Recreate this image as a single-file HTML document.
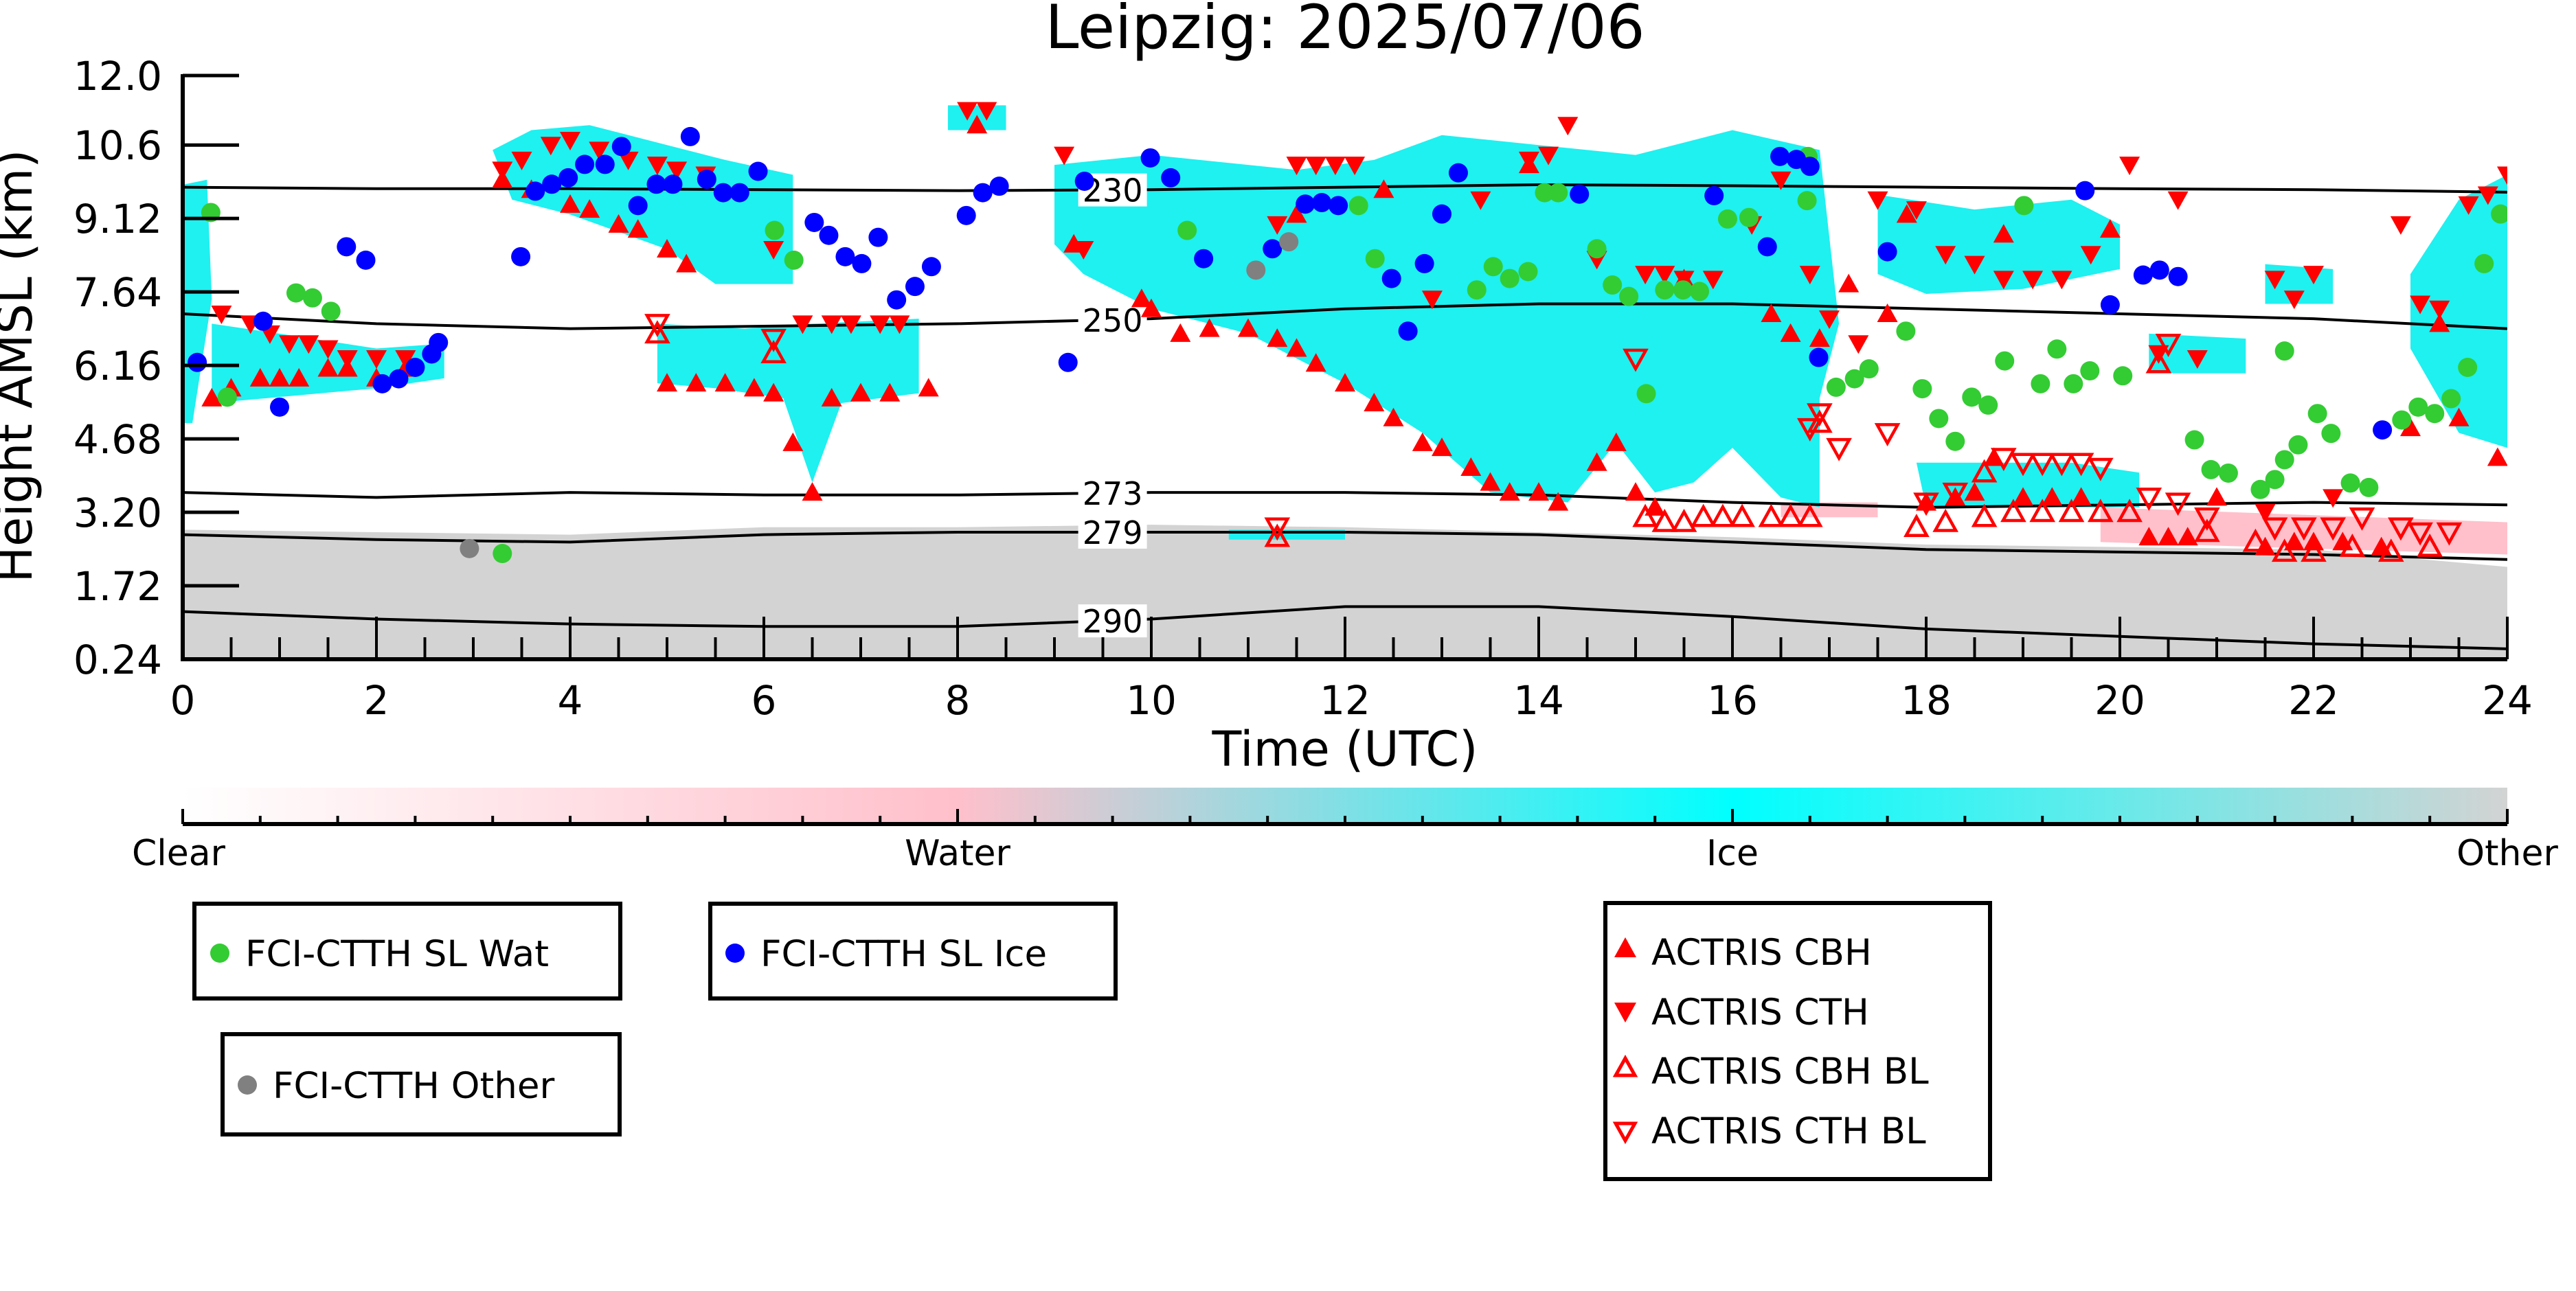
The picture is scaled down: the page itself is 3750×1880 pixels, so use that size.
<!DOCTYPE html>
<html><head><meta charset="utf-8">
<style>
html,body{margin:0;padding:0;background:#fff;}
body{width:3750px;height:1875px;overflow:hidden;font-family:"Liberation Sans","DejaVu Sans",sans-serif;}
svg text{font-family:"DejaVu Sans","Liberation Sans",sans-serif;}
</style></head>
<body>
<svg id="chart" width="3750" height="1875" viewBox="0 0 3750 1875" xmlns="http://www.w3.org/2000/svg">
<defs>
<linearGradient id="cbgrad" x1="0" x2="1" y1="0" y2="0">
<stop offset="0" stop-color="#ffffff"/>
<stop offset="0.333" stop-color="#ffc0cb"/>
<stop offset="0.667" stop-color="#00ffff"/>
<stop offset="1" stop-color="#d3d3d3"/>
</linearGradient>
<clipPath id="plotclip"><rect x="266" y="110" width="3384" height="850"/></clipPath>
</defs>
<text x="1958" y="70" font-size="88" text-anchor="middle">Leipzig: 2025/07/06</text>
<g id="plot" clip-path="url(#plotclip)"></g>
<g id="axes"></g>
<text x="1958" y="1115" font-size="70" text-anchor="middle">Time (UTC)</text>
<text transform="translate(46,533) rotate(-90)" font-size="70" text-anchor="middle">Height AMSL (km)</text>
<g>
<rect x="266" y="1147" width="3384" height="53" fill="url(#cbgrad)"/>
<line x1="266" y1="1200" x2="3650" y2="1200" stroke="#000" stroke-width="6"/>
<g id="cbticks"></g>
<text x="260" y="1260" font-size="52" text-anchor="middle">Clear</text>
<text x="1394" y="1260" font-size="52" text-anchor="middle">Water</text>
<text x="2522" y="1260" font-size="52" text-anchor="middle">Ice</text>
<text x="3650" y="1260" font-size="52" text-anchor="middle">Other</text>
</g>
<g>
<rect x="283" y="1316" width="620" height="138" fill="#fff" stroke="#000" stroke-width="6"/>
<circle cx="320" cy="1388" r="14" fill="#33cc33"/>
<text x="357" y="1407" font-size="53">FCI-CTTH SL Wat</text>
</g>
<g>
<rect x="1034" y="1316" width="590" height="138" fill="#fff" stroke="#000" stroke-width="6"/>
<circle cx="1070" cy="1388" r="14" fill="#0000ff"/>
<text x="1107" y="1407" font-size="53">FCI-CTTH SL Ice</text>
</g>
<g>
<rect x="324" y="1506" width="578" height="146" fill="#fff" stroke="#000" stroke-width="6"/>
<circle cx="360" cy="1580" r="14" fill="#808080"/>
<text x="397" y="1599" font-size="53">FCI-CTTH Other</text>
</g>
<g>
<rect x="2337" y="1315" width="560" height="402" fill="#fff" stroke="#000" stroke-width="6"/>
<polygon points="2350,1394 2382,1394 2366,1365" fill="#f00"/>
<text x="2404" y="1405" font-size="53">ACTRIS CBH</text>
<polygon points="2350,1460 2382,1460 2366,1489" fill="#f00"/>
<text x="2404" y="1492" font-size="53">ACTRIS CTH</text>
<polygon points="2352,1566 2380,1566 2366,1541" fill="none" stroke="#f00" stroke-width="5"/>
<text x="2404" y="1578" font-size="53">ACTRIS CBH BL</text>
<polygon points="2352,1636 2380,1636 2366,1661" fill="none" stroke="#f00" stroke-width="5"/>
<text x="2404" y="1665" font-size="53">ACTRIS CTH BL</text>
</g>
</svg>
<script>
const xTicks=[0,2,4,6,8,10,12,14,16,18,20,22,24];
const yTicks=[0.24,1.72,3.20,4.68,6.16,7.64,9.12,10.6,12.0];
const yTickLabels=["0.24","1.72","3.20","4.68","6.16","7.64","9.12","10.6","12.0"];
const isoLevels=["230","250","273","279","290"];
const isoTimes=[0,2,4,6,8,10,12,14,16,18,20,22,24];
const iso230=[9.75,9.72,9.72,9.7,9.68,9.7,9.75,9.8,9.78,9.75,9.72,9.7,9.65];
const iso250=[7.2,7.0,6.9,6.95,7.0,7.1,7.3,7.4,7.4,7.3,7.2,7.1,6.9];
const iso273=[3.6,3.5,3.6,3.55,3.55,3.6,3.6,3.55,3.4,3.3,3.35,3.4,3.35];
const iso279=[2.75,2.65,2.6,2.75,2.8,2.8,2.8,2.75,2.6,2.45,2.4,2.35,2.25];
const iso290=[1.2,1.05,0.95,0.9,0.9,1.05,1.3,1.3,1.1,0.85,0.7,0.55,0.45];
const groundTop=[2.85,2.8,2.75,2.9,2.9,2.95,2.9,2.8,2.7,2.55,2.5,2.45,2.1];
const watT=[0.29,0.46,1.17,1.34,1.53,6.11,6.31,10.37,12.31,12.14,13.36,13.53,13.70,13.89,14.06,14.2,14.6,14.76,14.93,15.11,15.3,15.49,15.66,15.95,16.17,16.77,16.78,17.07,17.26,17.41,17.79,17.96,18.13,18.3,18.47,18.64,18.81,19.01,19.18,19.35,19.52,19.69,20.03,20.77,20.94,21.12,21.45,21.6,21.7,21.84,22.04,22.18,21.7,22.38,22.57,22.91,23.08,23.25,23.42,23.59,23.76,23.93,3.3];
const watH=[9.24,5.52,7.62,7.52,7.25,8.88,8.28,8.88,8.31,9.38,7.68,8.15,7.91,8.05,9.64,9.64,8.51,7.78,7.55,5.59,7.68,7.68,7.65,9.11,9.14,9.48,10.37,5.72,5.89,6.09,6.85,5.69,5.09,4.63,5.52,5.36,6.25,9.38,5.79,6.49,5.79,6.05,5.95,4.66,4.06,3.99,3.66,3.86,4.26,4.56,5.19,4.79,6.45,3.79,3.7,5.06,5.32,5.19,5.49,6.12,8.21,9.21,2.37];
const iceT=[0.15,0.83,1.0,1.69,1.89,2.06,2.23,2.4,2.57,2.64,3.49,3.64,3.81,3.98,4.15,4.36,4.53,4.7,4.89,5.06,5.24,5.41,5.58,5.75,5.94,6.52,6.67,6.84,7.01,7.18,7.37,7.56,7.73,8.09,8.26,8.43,9.14,9.31,9.99,10.2,10.54,11.25,11.59,11.76,11.93,12.48,12.65,12.82,13.0,13.17,14.42,15.81,16.36,16.49,16.66,16.8,16.89,17.6,19.64,19.9,20.24,20.41,20.6,22.71];
const iceH=[6.22,7.05,5.32,8.55,8.28,5.79,5.89,6.12,6.39,6.62,8.35,9.67,9.81,9.94,10.21,10.21,10.57,9.38,9.81,9.81,10.77,9.91,9.64,9.64,10.07,9.04,8.78,8.35,8.21,8.74,7.48,7.75,8.15,9.18,9.64,9.77,6.22,9.87,10.34,9.94,8.31,8.51,9.41,9.44,9.38,7.91,6.85,8.21,9.21,10.04,9.61,9.58,8.55,10.37,10.31,10.17,6.32,8.45,9.68,7.38,7.98,8.08,7.95,4.86];
const othT=[2.96,11.08,11.42];
const othH=[2.47,8.08,8.65];
const cbhT=[0.3,0.5,0.8,1.0,1.2,1.5,1.7,2.0,2.3,3.3,3.6,4.0,4.2,4.5,4.7,5.0,5.2,5.0,5.3,5.6,5.9,6.1,6.3,6.5,6.7,7.0,7.3,7.7,8.2,9.2,10.0,10.3,10.6,11.0,11.3,11.5,11.7,12.0,12.3,12.5,12.8,13.0,13.3,13.5,13.7,14.0,14.2,14.6,14.8,15.0,15.2,15.5,16.4,16.6,16.9,17.2,17.6,17.8,18.0,18.3,18.5,18.7,18.8,19.0,19.3,19.6,19.9,20.3,20.5,20.7,21.0,21.5,21.8,22.0,22.3,22.7,23.0,23.3,23.5,23.9,11.5,9.9,13.9,12.4];
const cbhH=[5.5,5.7,5.9,5.9,5.9,6.1,6.1,5.9,6.1,9.9,9.7,9.4,9.3,9.0,8.9,8.5,8.2,5.8,5.8,5.8,5.7,5.6,4.6,3.6,5.5,5.6,5.6,5.7,11.0,8.6,7.3,6.8,6.9,6.9,6.7,6.5,6.2,5.8,5.4,5.1,4.6,4.5,4.1,3.8,3.6,3.6,3.4,4.2,4.6,3.6,3.3,7.9,7.2,6.8,6.7,7.8,7.2,9.2,3.4,3.5,3.6,4.3,8.8,3.5,3.5,3.5,8.9,2.7,2.7,2.7,3.5,2.5,2.6,2.6,2.6,2.5,4.9,7.0,5.1,4.3,9.2,7.5,10.2,9.7];
const cthT=[0.4,0.7,0.9,1.1,1.3,1.5,1.7,2.0,2.3,3.3,3.5,3.8,4.0,4.3,4.6,4.9,5.1,5.4,6.1,6.4,6.7,6.9,7.2,7.4,8.1,8.3,9.1,9.3,11.3,11.5,11.7,11.9,12.1,12.9,13.4,13.9,14.1,14.3,14.6,15.1,15.3,15.5,15.8,16.2,16.5,16.8,17.0,17.3,17.5,17.9,18.2,18.5,18.8,19.1,19.4,19.7,20.1,20.4,20.6,20.8,21.6,21.8,22.0,22.9,23.1,23.3,23.6,23.8,24.0,22.2,21.5];
const cthH=[7.2,7.0,6.8,6.6,6.6,6.5,6.3,6.3,6.3,10.1,10.3,10.6,10.7,10.5,10.3,10.2,10.1,10.0,8.5,7.0,7.0,7.0,7.0,7.0,11.3,11.3,10.4,8.5,9.0,10.2,10.2,10.2,10.2,7.5,9.5,10.3,10.4,11.0,8.3,8.0,8.0,7.9,7.9,9.0,9.9,8.0,7.1,6.6,9.5,9.3,8.4,8.2,7.9,7.9,7.9,8.4,10.2,6.4,9.5,6.3,7.9,7.5,8.0,9.0,7.4,7.3,9.4,9.6,10.0,3.5,3.2];
const cbhblT=[4.9,6.1,11.3,15.1,15.3,15.5,15.7,15.9,16.1,16.4,16.6,16.8,17.9,18.2,18.6,18.9,19.2,19.5,19.8,20.1,20.9,21.4,21.7,22.0,22.4,22.8,23.2,20.4,18.6,16.9];
const cbhblH=[6.8,6.4,2.7,3.1,3.0,3.0,3.1,3.1,3.1,3.1,3.1,3.1,2.9,3.0,3.1,3.2,3.2,3.2,3.2,3.2,2.8,2.6,2.4,2.4,2.5,2.4,2.5,6.2,4.0,5.0];
const cthblT=[4.9,6.1,11.3,15.0,16.8,16.9,17.1,17.6,18.0,18.3,18.8,19.0,19.2,19.4,19.6,19.8,20.3,20.6,20.9,21.6,21.9,22.2,22.5,22.9,23.1,23.4,20.5];
const cthblH=[7.0,6.7,2.9,6.3,4.9,5.2,4.5,4.8,3.4,3.6,4.3,4.2,4.2,4.2,4.2,4.1,3.5,3.4,3.1,2.9,2.9,2.9,3.1,2.9,2.8,2.8,6.6];
const iceRegions=[
[[0,9.8],[0.25,9.9],[0.3,7.5],[0.1,5.0],[0,5.0]],
[[0.3,7.0],[1.0,6.8],[2.0,6.5],[2.7,6.6],[2.7,5.9],[2.0,5.7],[0.3,5.4]],
[[3.2,10.5],[3.6,10.9],[4.2,11.0],[5.0,10.6],[5.6,10.3],[6.3,10.0],[6.3,7.8],[5.5,7.8],[5.0,8.5],[4.0,9.2],[3.4,9.5]],
[[4.9,7.0],[5.8,6.9],[6.5,7.0],[7.6,7.1],[7.6,5.6],[6.8,5.4],[6.5,3.8],[6.2,5.5],[5.5,5.7],[4.9,5.8]],
[[7.9,11.4],[8.5,11.4],[8.5,10.9],[7.9,10.9]],
[[9.0,10.2],[10.0,10.4],[11.5,10.1],[12.3,10.3],[13.0,10.8],[14.0,10.6],[15.0,10.4],[16.0,10.9],[16.9,10.5],[17.1,7.0],[16.9,5.5],[16.9,3.3],[16.5,3.5],[16.0,4.5],[15.6,3.8],[15.2,3.6],[14.8,4.6],[14.3,3.4],[13.5,3.6],[12.8,4.8],[12.0,5.8],[11.0,6.8],[10.0,7.3],[9.3,8.0],[9.0,8.6]],
[[17.5,9.6],[18.5,9.3],[19.5,9.5],[20.0,9.0],[20.0,8.1],[19.0,7.7],[18.0,7.6],[17.5,8.0]],
[[17.9,4.2],[19.5,4.2],[20.2,4.0],[20.2,3.3],[18.0,3.3]],
[[20.3,6.8],[21.3,6.7],[21.3,6.0],[20.3,6.0]],
[[23.0,8.0],[23.5,9.5],[24,10.0],[24,4.5],[23.5,4.8],[23.0,6.5]],
[[21.5,8.2],[22.2,8.1],[22.2,7.4],[21.5,7.4]],
[[10.8,2.85],[12.0,2.85],[12.0,2.65],[10.8,2.65]]
];
const waterRegions=[
[[19.8,3.3],[24,3.0],[24,2.35],[19.8,2.6]],
[[6.4,7.0],[7.3,7.0],[7.3,6.6],[6.4,6.6]],
[[16.5,3.4],[17.5,3.4],[17.5,3.1],[16.5,3.1]]
];
const X0=266,X1=3650,Y0=960,Y1=110,HMIN=0.24,HMAX=12.0;
function xs(t){return X0+(t/24)*(X1-X0);}
function ys(h){return Y0-(h-HMIN)/(HMAX-HMIN)*(Y0-Y1);}
const NS='http://www.w3.org/2000/svg';
function mk(tag,attrs,parent){const e=document.createElementNS(NS,tag);for(const k in attrs)e.setAttribute(k,attrs[k]);parent.appendChild(e);return e;}
const plot=document.getElementById('plot');
const axes=document.getElementById('axes');
// ground
let gp=isoTimes.map((t,i)=>xs(t)+','+ys(groundTop[i])).join(' ');
gp+=' '+xs(24)+','+ys(HMIN)+' '+xs(0)+','+ys(HMIN);
const ground=mk('polygon',{points:gp,fill:'#d3d3d3'},plot);


waterRegions.forEach(r=>{
 const p=mk('polygon',{points:r.map(q=>xs(q[0])+','+ys(q[1])).join(' '),fill:'#ffc0cb'},plot);
 
 
});
iceRegions.forEach(r=>{
 const p=mk('polygon',{points:r.map(q=>xs(q[0])+','+ys(q[1])).join(' '),fill:'#1ff0f0'},plot);
 
 
});
// isotherms
const isoSeries=[iso230,iso250,iso273,iso279,iso290];
isoSeries.forEach((s,k)=>{
 const d=isoTimes.map((t,i)=>(i?'L':'M')+xs(t)+','+ys(s[i])).join(' ');
 const l=mk('path',{d:d,fill:'none',stroke:'#000','stroke-width':4},plot);
 
 
 const hy=ys((s[4]+s[5])/2*0.5+s[5]*0.5);
 const bg=mk('rect',{x:xs(9.6)-50,y:hy-24,width:100,height:48,fill:'#fff'},plot);
 
 
 const tx=mk('text',{x:xs(9.6),y:hy+17,'font-size':46,'text-anchor':'middle'},plot);
 tx.textContent=isoLevels[k];
 
 
});
function circles(T,H,color,name){
 T.forEach((t,i)=>{
  const c=mk('circle',{cx:xs(t),cy:ys(H[i]),r:14,fill:color},plot);
  
  
 });
}
function tris(T,H,up,filled,name){
 T.forEach((t,i)=>{
  const x=xs(t),y=ys(H[i]);
  const pts=up?[[x-15,y+12],[x+15,y+12],[x,y-15]]:[[x-15,y-12],[x+15,y-12],[x,y+15]];
  const a=filled?{fill:'#f00'}:{fill:'none',stroke:'#f00','stroke-width':4.5};
  a.points=pts.map(p=>p.join(',')).join(' ');
  const g=mk('polygon',a,plot);
  
  
 });
}
tris(cbhT,cbhH,true,true,'actris-cbh-marker');
tris(cthT,cthH,false,true,'actris-cth-marker');
tris(cbhblT,cbhblH,true,false,'actris-cbh-bl-marker');
tris(cthblT,cthblH,false,false,'actris-cth-bl-marker');
circles(watT,watH,'#33cc33','fci-wat-point');
circles(iceT,iceH,'#0000ff','fci-ice-point');
circles(othT,othH,'#808080','fci-other-point');
// axes
const ax1=mk('line',{x1:X0,y1:Y1-2,x2:X0,y2:Y0+3,stroke:'#000','stroke-width':6},axes);


const ax2=mk('line',{x1:X0-3,y1:Y0,x2:X1,y2:Y0,stroke:'#000','stroke-width':6},axes);


yTicks.forEach((h,i)=>{
 const y=ys(h);
 const tk=mk('line',{x1:X0,y1:y,x2:X0+82,y2:y,stroke:'#000','stroke-width':5},axes);
 
 
 const tl=mk('text',{x:X0-30,y:y+21,'font-size':58,'text-anchor':'end'},axes);
 tl.textContent=yTickLabels[i];
 
 
});
for(let t=0;t<=24;t+=0.5){
 const x=xs(t);const major=(t%2===0);
 const tk=mk('line',{x1:x,y1:Y0,x2:x,y2:Y0-(major?62:32),stroke:'#000','stroke-width':4},axes);
 
 
}
xTicks.forEach(t=>{
 const tl=mk('text',{x:xs(t),y:1040,'font-size':58,'text-anchor':'middle'},axes);
 tl.textContent=String(t);
 
 
});
const cbt=document.getElementById('cbticks');
for(let i=0;i<=30;i++){
 const x=X0+i*(X1-X0)/30;const major=(i%10===0);
 const tk=mk('line',{x1:x,y1:1200,x2:x,y2:1200-(major?22:12),stroke:'#000','stroke-width':4},cbt);
 
 
}
</script>
</body></html>
